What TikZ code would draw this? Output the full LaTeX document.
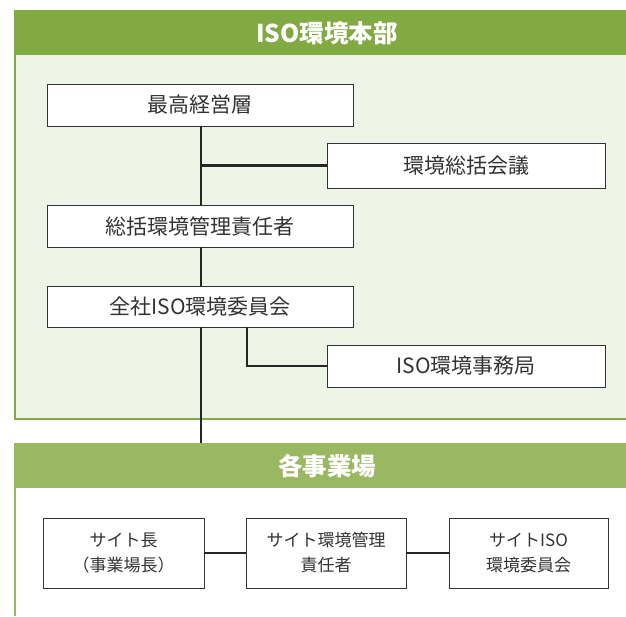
\documentclass[tikz,border=0pt]{standalone}
\usepackage{fontspec}
\setmainfont{Noto Sans CJK JP}
\definecolor{hdrA}{HTML}{82AA42}
\definecolor{hdrB}{HTML}{9AB862}
\definecolor{panel}{HTML}{EEF4E6}
\definecolor{boxline}{HTML}{333333}
\definecolor{txt}{HTML}{333333}
\tikzset{
  orgbox/.style={draw=boxline, line width=0.9pt, fill=white, text=txt, minimum height=42pt, inner sep=0pt, font=\fontsize{21}{24}\selectfont, align=center},
  sitebox/.style={orgbox, minimum width=160pt, minimum height=70pt, font=\fontsize{17}{25}\selectfont},
  link/.style={draw=black!85, line width=2.4pt},
  hdrtext/.style={text=white, font=\fontsize{24.5}{28}\selectfont\bfseries}
}
\begin{document}
\begin{tikzpicture}[x=1pt,y=-1pt]
\useasboundingbox (0,0) rectangle (626,616);
% top panel
\fill[panel] (15,54) rectangle (626,419);
\draw[hdrA, line width=2pt] (15,10) -- (15,419) -- (626,419);
\fill[hdrA] (14,10) rectangle (626,55);
\node[hdrtext] (top) at (327,33) {ISO環境本部};
% bottom panel
\draw[hdrB, line width=2pt] (15,443) -- (15,616);
\fill[hdrB] (14,443) rectangle (626,488);
\node[hdrtext] (bot) at (327,466) {各事業場};
% boxes
\node[orgbox, minimum width=306pt] (b1) at (200,105) {最高経営層};
\node[orgbox, minimum width=278pt, minimum height=45pt] (b2) at (466,165.5) {環境総括会議};
\node[orgbox, minimum width=306pt] (b3) at (200,226) {総括環境管理責任者};
\node[orgbox, minimum width=306pt, minimum height=41pt] (b4) at (200,306.5) {全社ISO環境委員会};
\node[orgbox, minimum width=278pt] (b5) at (466,366) {ISO環境事務局};
\coordinate (vtop) at (201,126);
\coordinate (vbot) at (201,443);
\coordinate (j1) at (201,165.5);
\coordinate (k1) at (247,327);
\coordinate (k2) at (247,366);
% connectors
\draw[link] (b1.south -| vtop) -- (b3.north -| vtop);
\draw[link] (b3.south -| vtop) -- (b4.north -| vtop);
\draw[link] (b4.south -| vtop) -- (vbot);
\draw[link] (j1) -- (b2.west);
\draw[link] (b4.south -| k1) -- (k2) -- (b5.west);
% site boxes
\node[sitebox, minimum width=161pt] (s1) at (123.5,553) {サイト長\\（事業場長）};
\node[sitebox] (s2) at (326,553) {サイト環境管理\\責任者};
\node[sitebox, minimum width=159pt] (s3) at (528.5,553) {サイトISO\\環境委員会};
\draw[link] (s1.east) -- (s2.west);
\draw[link] (s2.east) -- (s3.west);
\end{tikzpicture}
\end{document}
